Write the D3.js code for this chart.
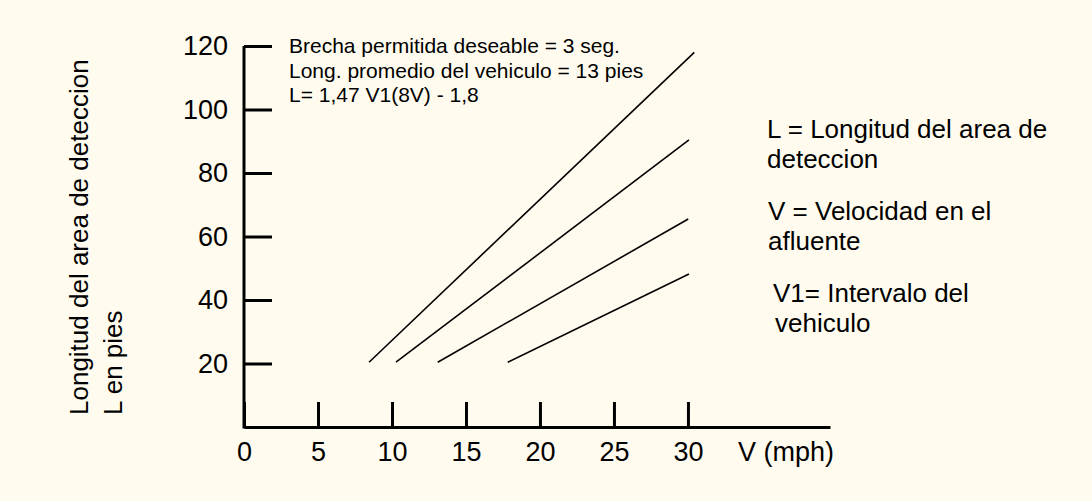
<!DOCTYPE html>
<html>
<head>
<meta charset="utf-8">
<script src="https://cdn.jsdelivr.net/npm/d3@7"></script>
<style>
  body { margin: 0; background: #fffcef; }
  svg { display: block; font-family: Arial, "Liberation Sans", sans-serif; }
</style>
</head>
<body>
<div id="chart"></div>
<script>
const WIDTH = 1092;
const HEIGHT = 501;

// datos
const xTicks = [0, 5, 10, 15, 20, 25, 30];
const yTicks = [20, 40, 60, 80, 100, 120];
const startV = [8.45, 10.27, 13.09, 17.82];
const startL = [20.4, 20.4, 20.4, 20.4];
const endV = [30.43, 30.07, 30.02, 30.07];
const endL = [118, 90.4, 65.5, 48.2];

const notes = [
    "Brecha permitida deseable = 3 seg.",
    "Long. promedio del vehiculo = 13 pies",
    "L= 1,47 V1(8V) - 1,8"
];
const legendLines = [
    "L = Longitud del area de",
    "deteccion",
    "V = Velocidad en el",
    "afluente",
    "V1= Intervalo del",
    "vehiculo"
];
const yTitle = ["Longitud del area de deteccion", "L en pies"];
const xTitle = "V (mph)";

const svg = d3.select("#chart").append("svg")
    .attr("width", WIDTH)
    .attr("height", HEIGHT);

// Escalas
const x = d3.scaleLinear().domain([0, 39.6]).range([244, 830]);
const y = d3.scaleLinear().domain([0, 120]).range([427, 46]);

// Eje X
const gx = svg.append("g")
    .attr("transform", `translate(0,${y(0)})`)
    .call(d3.axisBottom(x)
        .tickValues(xTicks)
        .tickSize(-25)
        .tickSizeOuter(0)
        .tickPadding(15));

// Eje Y
const gy = svg.append("g")
    .attr("transform", `translate(${x(0)},0)`)
    .call(d3.axisLeft(y)
        .tickValues(yTicks)
        .tickSize(-28)
        .tickSizeOuter(0)
        .tickPadding(16));

[gx, gy].forEach(g => {
    g.selectAll("path, line")
        .attr("stroke", "#000")
        .attr("stroke-width", 3);
    g.selectAll("text")
        .attr("fill", "#000")
        .style("font-size", "27px");
});
gy.select(".domain").attr("d", `M0,${y(0) + 1.5}V${y(120)}`);

svg.append("text")
    .attr("x", 738)
    .attr("y", 461)
    .style("font-size", "27px")
    .text(xTitle);

// Lineas
const series = startV.map((v, i) => [[v, startL[i]], [endV[i], endL[i]]]);
const line = d3.line().x(d => x(d[0])).y(d => y(d[1]));

svg.selectAll(".serie")
    .data(series)
    .enter().append("path")
    .attr("class", "serie")
    .attr("d", line)
    .attr("fill", "none")
    .attr("stroke", "#000")
    .attr("stroke-width", 1.6);

// Notas
svg.selectAll(".nota")
    .data(notes)
    .enter().append("text")
    .attr("class", "nota")
    .attr("x", 289)
    .attr("y", (d, i) => 53 + i * 24.5)
    .style("font-size", "21px")
    .text(d => d);

// Leyenda a la derecha
const legendX = [767, 767, 768, 768, 773, 775];
const legendY = [138, 168, 220, 250, 302, 332];
svg.selectAll(".leyenda")
    .data(legendLines)
    .enter().append("text")
    .attr("class", "leyenda")
    .attr("x", (d, i) => legendX[i])
    .attr("y", (d, i) => legendY[i])
    .style("font-size", "26px")
    .text(d => d);

// Titulo eje Y
svg.selectAll(".ytitle")
    .data(yTitle)
    .enter().append("text")
    .attr("class", "ytitle")
    .attr("transform", (d, i) => `translate(${88 + i * 33.5},415) rotate(-90)`)
    .style("font-size", "26px")
    .text(d => d);
</script>
</body>
</html>
